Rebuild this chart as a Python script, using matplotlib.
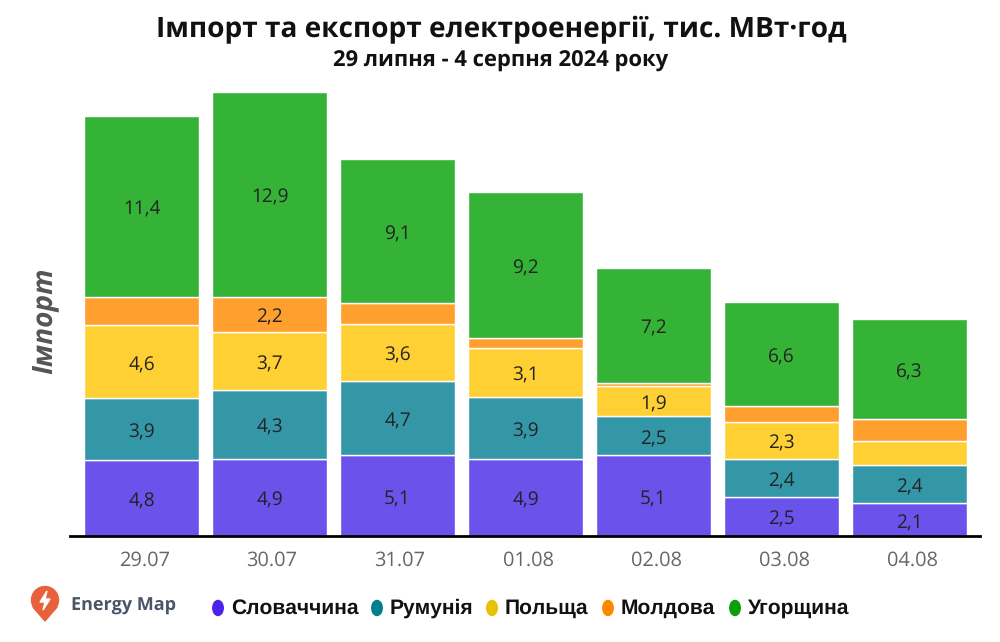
import matplotlib
matplotlib.use("Agg")
import matplotlib.pyplot as plt
from matplotlib.patches import Circle, Polygon, Ellipse
from matplotlib.transforms import ScaledTranslation
import numpy as np

plt.rcParams['font.family'] = ['Open Sans', 'DejaVu Sans']
plt.rcParams['text.hinting'] = 'no_hinting'
plt.rcParams['text.hinting_factor'] = 1

dates = ["29.07", "30.07", "31.07", "01.08", "02.08", "03.08", "04.08"]
slovakia = [4.8, 4.9, 5.1, 4.9, 5.1, 2.5, 2.1]
romania = [3.9, 4.3, 4.7, 3.9, 2.5, 2.4, 2.4]
poland = [4.6, 3.7, 3.6, 3.1, 1.9, 2.3, 1.5]
moldova = [1.8, 2.2, 1.3, 0.6, 0.2, 1.0, 1.4]
hungary = [11.4, 12.9, 9.1, 9.2, 7.2, 6.6, 6.3]

names = ["Словаччина", "Румунія", "Польща", "Молдова", "Угорщина"]
series = [slovakia, romania, poland, moldova, hungary]
colors = ["#6a52ea", "#3497a8", "#ffd033", "#ff9f2e", "#35b336"]
legend_colors = ["#4a25e8", "#007f8f", "#e6c200", "#ff8800", "#0a9e0a"]
min_label = 1.85

fig = plt.figure(figsize=(10, 6.42), dpi=100)
ax = fig.add_axes([0.07, 0.1645, 0.91, 0.7])

x = np.arange(len(dates))
bottom = np.zeros(len(dates))
for vals, col in zip(series, colors):
    ax.bar(x, vals, 0.9, bottom=bottom, color=col, edgecolor="white", linewidth=1)
    for i, v in enumerate(vals):
        if v >= min_label:
            # labels sit a little under the segment centre
            ax.annotate(str(v).replace(".", ","), (i, bottom[i] + v / 2), xytext=(0, -2.5),
                        textcoords="offset points", ha="center", va="center",
                        fontsize=13.5, color="#222222")
    bottom += np.array(vals)

ax.set_xlim(-0.559, 6.55)
ax.set_ylim(0, 28.33)
ax.set_xticks(x)
ax.set_xticklabels(dates, fontsize=14.5, color="#666666")
ax.tick_params(axis="x", length=0, pad=10.5)
shift = ScaledTranslation(2.5 / 100, 0, fig.dpi_scale_trans)
for lab in ax.get_xticklabels():
    lab.set_transform(lab.get_transform() + shift)
ax.set_yticks([])
for s in ["top", "left", "right"]:
    ax.spines[s].set_visible(False)
ax.spines["bottom"].set_linewidth(2)
ax.spines["bottom"].set_color("#000000")

fig.text(0.501, 0.954, "Імпорт та експорт електроенергії, тис. МВт·год", ha="center", va="center",
         fontsize=20.2, fontweight="bold", color="#111111")
fig.text(0.501, 0.905, "29 липня - 4 серпня 2024 року", ha="center", va="center",
         fontsize=16, fontweight="bold", color="#111111")
fig.text(0.045, 0.5, "Імпорт", rotation=90, ha="center", va="center", fontsize=20,
         fontweight="bold", fontstyle="italic", color="#555555")

# legend
leg_x = [0.218, 0.377, 0.492, 0.608, 0.735]
for lx, name, col in zip(leg_x, names, legend_colors):
    fig.add_artist(Ellipse((lx, 0.053), 0.0105, 0.0234, color=col, transform=fig.transFigure))
    fig.text(lx + 0.013, 0.052, name, ha="left", va="center", fontsize=15, fontweight="bold",
             family="Liberation Sans", color="#111111")

# Energy Map logo
fig.text(0.071, 0.056, "Energy Map", ha="left", va="center", fontsize=13, fontweight="bold",
         family="Open Sans", color="#4a5568")
logo = fig.add_axes([0.025, 0.028, 0.04, 0.0623])
logo.set_xlim(0, 40)
logo.set_ylim(0, 40)
logo.axis("off")
logo.add_patch(Circle((20, 24), 13.5, color="#e8603c"))
logo.add_patch(Polygon([[8, 17], [32, 17], [20, 3]], color="#e8603c"))
logo.add_patch(Polygon([[22, 33], [15, 22], [20, 22], [18, 14], [25, 25], [20, 25]], color="white"))

fig.savefig("out.png", dpi=100)
